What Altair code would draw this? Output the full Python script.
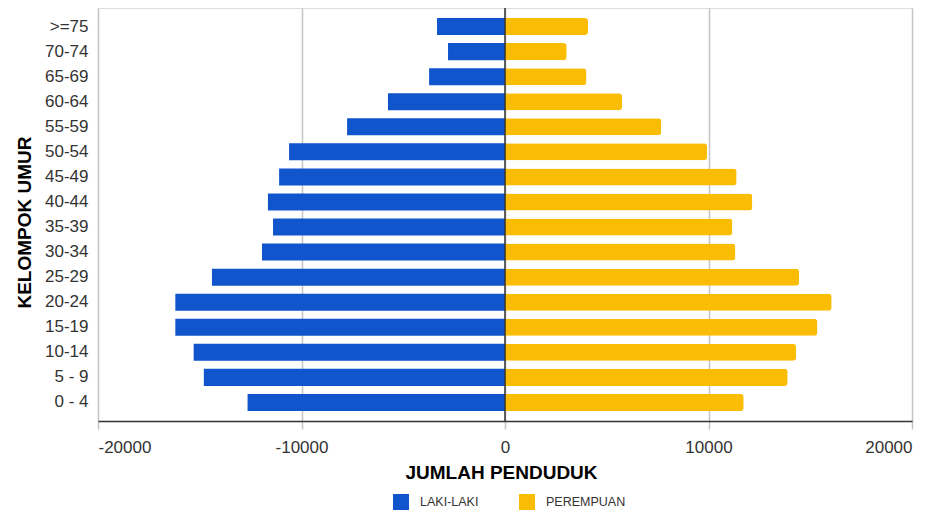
import altair as alt
import pandas as pd

ages = [">=75", "70-74", "65-69", "60-64", "55-59", "50-54", "45-49", "40-44",
        "35-39", "30-34", "25-29", "20-24", "15-19", "10-14", "5 - 9", "0 - 4"]
laki = [3340, 2800, 3730, 5750, 7760, 10610, 11100, 11650,
        11400, 11940, 14400, 16200, 16200, 15300, 14800, 12650]
perempuan = [4080, 3030, 4000, 5750, 7680, 9930, 11380, 12150,
             11170, 11320, 14450, 16050, 15350, 14300, 13890, 11730]
groups = ["LAKI-LAKI", "PEREMPUAN"]
colors = ["#1155cc", "#fbbc04"]
x_ticks = [-20000, -10000, 0, 10000, 20000]

rows = []
for a, m, f in zip(ages, laki, perempuan):
    rows.append({"age": a, "group": groups[0], "value": -m})
    rows.append({"age": a, "group": groups[1], "value": f})
df = pd.DataFrame(rows)

FONT = "Liberation Sans"

xscale = alt.Scale(domain=[-20000, 20000], nice=False)
yscale = alt.Scale(domain=ages, paddingInner=0.32, paddingOuter=0.4)

x_enc = alt.X("value:Q", scale=xscale,
              axis=alt.Axis(values=x_ticks, title="JUMLAH PENDUDUK",
                            labelExpr="'' + datum.value",
                            grid=True, gridColor="#c4c4c4", gridWidth=1.5,
                            domainColor="#333333", domainWidth=1.5,
                            ticks=True, tickColor="#c4c4c4", tickSize=8, tickWidth=1.5,
                            labelFontSize=17, labelColor="#333333", labelPadding=10,
                            labelFont=FONT,
                            titleFont=FONT, titleFontSize=19, titleFontWeight="bold",
                            titleColor="#000000", titleBaseline="middle",
                            titleX=403, titleY=51, titleAnchor="start",
                            titleAlign="center"))
y_enc = alt.Y("age:N", scale=yscale, sort=ages,
              axis=alt.Axis(title="KELOMPOK UMUR", domain=False, ticks=False, grid=False,
                            labelFontSize=17, labelColor="#333333", labelPadding=10,
                            labelFont=FONT,
                            titleFont=FONT, titleFontSize=19, titleFontWeight="bold",
                            titleColor="#000000", titleAngle=-90,
                            titleBaseline="middle", titleAlign="center",
                            titleX=-74, titleY=214))
color_enc = alt.Color("group:N", scale=alt.Scale(domain=groups, range=colors),
                      legend=alt.Legend(title=None, orient="none", direction="horizontal",
                                        legendX=295, legendY=486, padding=0,
                                        symbolType="square", symbolSize=256,
                                        symbolStrokeWidth=0, symbolOpacity=1,
                                        labelFont=FONT, labelFontSize=12.5,
                                        labelColor="#333333", labelOffset=11,
                                        columnPadding=40))

base = alt.Chart(df).encode(x=x_enc, y=y_enc, color=color_enc)

male = base.transform_filter(alt.datum.group == groups[0]).mark_bar()
female = base.transform_filter(alt.datum.group == groups[1]).mark_bar(cornerRadiusEnd=3)

zero = alt.Chart(pd.DataFrame({"value": [0]})).mark_rule(
    color="#333333", strokeWidth=1.5).encode(x=alt.X("value:Q", scale=xscale))

chart = alt.layer(male, female, zero).properties(
    width=814, height=413,
    autosize=alt.AutoSizeParams(type="none"),
    padding={"left": 90, "top": 0, "right": 22, "bottom": 90},
).configure_view(stroke=None).configure(font=FONT)

chart.save("out.html", embed_options={"renderer": "svg", "actions": False})
